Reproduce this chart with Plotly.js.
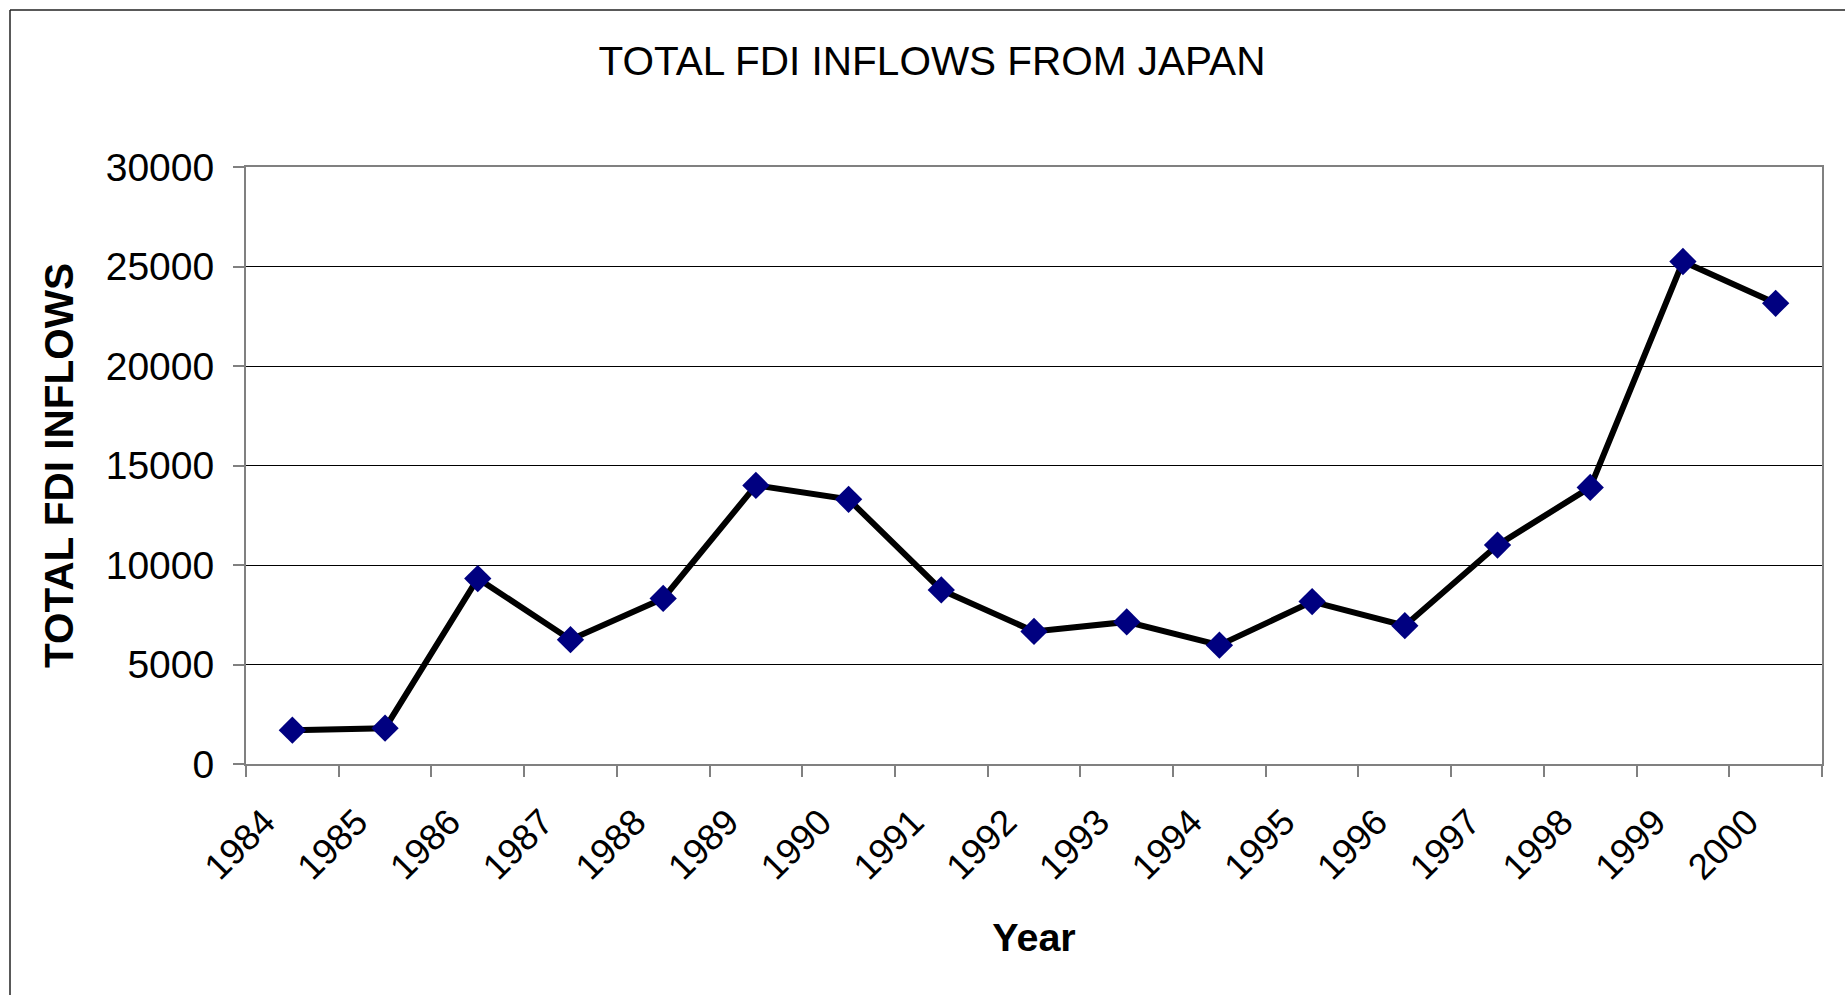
<!DOCTYPE html>
<html>
<head>
<meta charset="utf-8">
<script src="https://cdn.plot.ly/plotly-3.0.1.min.js"></script>
<style>html,body{margin:0;padding:0;background:#fff;}#chart{width:1845px;height:995px;}</style>
</head>
<body>
<div id="chart"></div>
<script>
const years = ["1984","1985","1986","1987","1988","1989","1990","1991","1992","1993","1994","1995","1996","1997","1998","1999","2000"];
const fdiInflows = [1700, 1800, 9320, 6250, 8320, 14000, 13300, 8750, 6660, 7140, 5970, 8160, 6950, 11000, 13900, 25250, 23150];
const yTicks = [0, 5000, 10000, 15000, 20000, 25000, 30000];

const FONT = "Liberation Sans, Arial, sans-serif";
const W = 1845, H = 995;
const L = 246, R = 23, T = 167, B = 231;
const pw = W - L - R, ph = H - T - B;

const trace = {
  x: years,
  y: fdiInflows,
  type: "scatter",
  mode: "lines+markers",
  line: {color: "#000000", width: 6},
  marker: {symbol: "diamond", size: 21, color: "#000080", line: {width: 0}},
  hoverinfo: "x+y"
};

const layout = {
  width: W, height: H,
  margin: {l: L, r: R, t: T, b: B, autoexpand: false},
  paper_bgcolor: "#ffffff",
  plot_bgcolor: "#ffffff",
  showlegend: false,
  font: {family: FONT, color: "#000"},
  title: {
    text: "TOTAL FDI INFLOWS FROM JAPAN",
    font: {family: FONT, size: 40.5, color: "#000"},
    xref: "container", yref: "container",
    x: 932 / W, xanchor: "center",
    y: 1 - 61 / H, yanchor: "middle"
  },
  xaxis: {
    type: "category",
    range: [-0.5, years.length - 0.5],
    tickangle: -45,
    tickfont: {family: FONT, size: 36.5, color: "#000"},
    ticks: "outside", ticklen: 11, tickwidth: 2, tickcolor: "#808080",
    tickson: "boundaries",
    ticklabelstandoff: 20,
    ticklabelshift: -28,
    showline: true, linecolor: "#808080", linewidth: 2, mirror: true,
    showgrid: false, zeroline: false,
    automargin: false,
    title: {text: "<b>Year</b>", font: {family: FONT, size: 39.5, color: "#000"}, standoff: 37}
  },
  yaxis: {
    range: [0, 30000],
    tickvals: yTicks,
    ticktext: yTicks.map(String),
    tickfont: {family: FONT, size: 39, color: "#000"},
    ticks: "outside", ticklen: 11, tickwidth: 2, tickcolor: "#808080",
    ticklabelstandoff: 11,
    showline: true, linecolor: "#808080", linewidth: 2, mirror: true,
    showgrid: true, gridcolor: "#000000", gridwidth: 1,
    zeroline: false,
    automargin: false,
    title: {text: "<b>TOTAL FDI INFLOWS</b>", font: {family: FONT, size: 40.5, color: "#000"}, standoff: 20}
  },
  shapes: [
    {type: "line", xref: "paper", yref: "paper",
     x0: (10 - L) / pw, x1: (W + 5 - L) / pw, y0: (H - B - 10) / ph, y1: (H - B - 10) / ph,
     line: {color: "#222", width: 1.5}},
    {type: "line", xref: "paper", yref: "paper",
     x0: (10 - L) / pw, x1: (10 - L) / pw, y0: (H - B - 10) / ph, y1: -(B + 10) / ph,
     line: {color: "#222", width: 1.5}}
  ]
};

Plotly.newPlot("chart", [trace], layout, {staticPlot: true, displayModeBar: false});
</script>
</body>
</html>
